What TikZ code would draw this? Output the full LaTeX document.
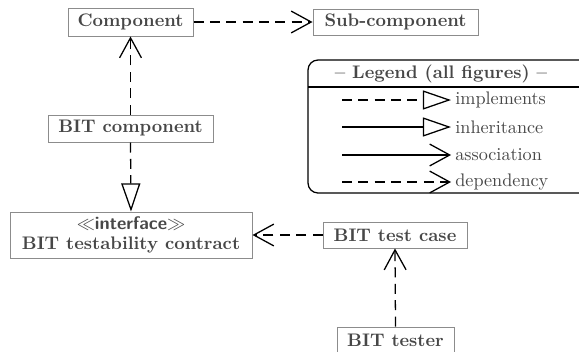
\documentclass[tikz,border=0pt]{standalone}
\usetikzlibrary{arrows.meta}
\definecolor{txt}{HTML}{474747}
\definecolor{bord}{HTML}{8C8C8C}
\def\px{0.55pt}
\tikzset{
  cls/.style={draw=bord, line width=0.55pt, rectangle, inner sep=0pt, text=txt, font=\bfseries, align=center},
  dep/.style={line width=0.7pt, dash pattern=on 5.5pt off 3.5pt, -{Straight Barb[length=11pt,width=12pt,line width=0.7pt]}},
  impl/.style={line width=0.7pt, dash pattern=on 5.5pt off 3.5pt, -{Triangle[open,length=15.5pt,width=10.5pt,line width=0.7pt,fill=white]}},
  inh/.style={line width=0.7pt, -{Triangle[open,length=15.5pt,width=10.5pt,line width=0.7pt,fill=white]}},
  assoc/.style={line width=0.7pt, -{Straight Barb[length=11pt,width=12pt,line width=0.7pt]}},
  legtxt/.style={anchor=west, inner sep=0pt, text=txt}
}
\begin{document}
\begin{tikzpicture}[x=\px, y=-\px]
\useasboundingbox (0,0) rectangle (579,351);
% classes
\node[cls, minimum width=125*\px, minimum height=28*\px] (comp) at (130.5,22) {Component};
\node[cls, minimum width=165*\px, minimum height=26*\px] (sub) at (395.5,22) {Sub-component};
\node[cls, minimum width=165*\px, minimum height=27*\px] (bitcomp) at (130.5,128.5) {BIT component};
\node[cls, minimum width=242*\px, minimum height=46*\px] (iface) at (131,235) {$\ll$\textsf{interface}$\gg$\\[-1pt]BIT testability contract};
\node[cls, minimum width=144*\px, minimum height=26*\px] (testcase) at (395,235) {BIT test case};
\node[cls, minimum width=117*\px, minimum height=27*\px] (tester) at (395.5,340.5) {BIT tester};
% connectors
\draw[dep] (comp.east) -- (sub.west);
\draw[dep] (bitcomp.north) -- (comp.south);
\draw[impl] (bitcomp.south) -- (iface.north);
\draw[dep] (testcase.west) -- (iface.east);
\draw[dep] (tester.north) -- (testcase.south);
% legend
\draw[line width=0.7pt, rounded corners=5.5pt] (308,60) rectangle (600,193);
\coordinate (sepL) at (308,87);
\coordinate (sepR) at (600,87);
\draw[line width=0.7pt] (sepL) -- (sepR);
\node[text=txt, font=\bfseries, inner sep=0pt] (legtitle) at (441,73.5) {-- Legend (all figures) --};
\coordinate (l1a) at (342,100); \coordinate (l1b) at (451,100);
\coordinate (l2a) at (342,127); \coordinate (l2b) at (451,127);
\coordinate (l3a) at (342,155); \coordinate (l3b) at (451,155);
\coordinate (l4a) at (342,182); \coordinate (l4b) at (451,182);
\draw[impl] (l1a) -- (l1b);
\draw[inh] (l2a) -- (l2b);
\draw[assoc] (l3a) -- (l3b);
\draw[dep] (l4a) -- (l4b);
\node[legtxt] (t1) at (455,100) {implements};
\node[legtxt] (t2) at (455,127) {inheritance};
\node[legtxt] (t3) at (455,155) {association};
\node[legtxt] (t4) at (455,182) {dependency};
\end{tikzpicture}
\end{document}
